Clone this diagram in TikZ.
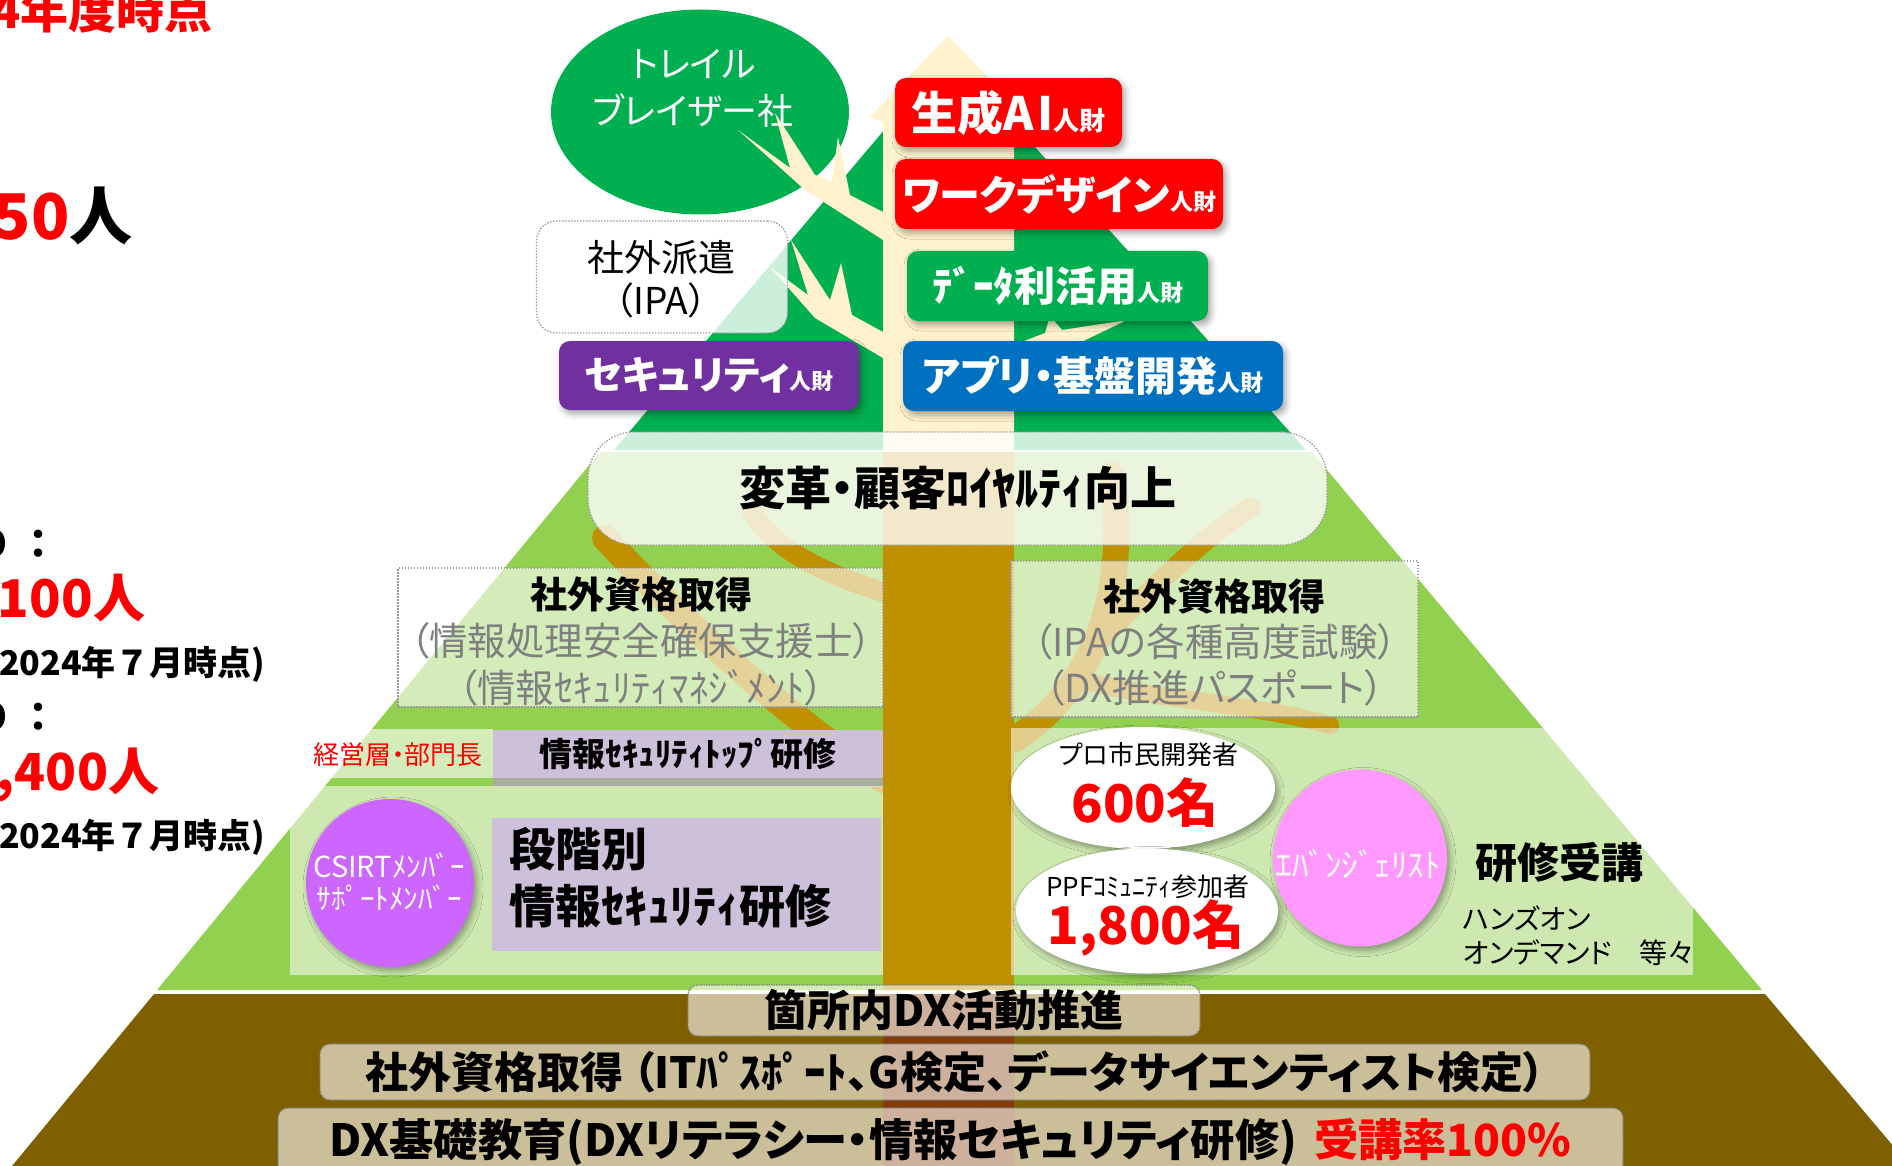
\documentclass[tikz,border=0pt]{standalone}
\usepackage{fontspec}
\setmainfont{Noto Sans CJK JP}[RawFeature=+palt]
\newfontfamily\jpfix{Noto Sans CJK JP}
\usetikzlibrary{shapes.geometric,shadows.blur}

\definecolor{dgreen}{HTML}{00B050}
\definecolor{lgreen}{HTML}{92D050}
\definecolor{soil}{HTML}{7F6000}
\definecolor{cream}{HTML}{FFF2CC}
\definecolor{gold}{HTML}{BF9000}
\definecolor{rootc}{HTML}{843C0C}
\definecolor{tblue}{HTML}{0070C0}
\definecolor{tpurple}{HTML}{7030A0}
\definecolor{lav}{HTML}{CCC0DA}
\definecolor{csirtc}{HTML}{CC66FF}
\definecolor{pinkc}{HTML}{FF99FF}
\definecolor{txtgray}{HTML}{7F7F7F}
\definecolor{shadegray}{HTML}{A9ADA0}

\newcommand\fsz[1]{\fontsize{#1}{#1}\selectfont}

\begin{document}
\begin{tikzpicture}[x=1pt,y=-1pt,
  every node/.style={inner sep=0pt, outer sep=0pt},
  shad/.style={blur shadow={shadow xshift=3pt, shadow yshift=-4pt, shadow blur radius=6pt, shadow opacity=35}},
  tagbox/.style={rounded corners=11pt, text=white, font=\bfseries, shad},
  glass/.style={fill=white, fill opacity=0.8, text opacity=1, draw=gray!80, line width=1.2pt, dash pattern=on 1.5pt off 1.5pt},
  haze/.style={fill=white, fill opacity=0.6, text opacity=1, draw=gray!80, line width=1.2pt, dash pattern=on 1.5pt off 1.5pt},
  soilbox/.style={fill=white, fill opacity=0.6, text opacity=1, draw=gray, line width=1.2pt, dash pattern=on 1.5pt off 1pt, rounded corners=10pt},
  bubble/.style={ellipse, fill=white, shad},
  limb/.style={draw=gold, line width=#1, line cap=round},
]
\useasboundingbox (0,0) rectangle (1892,1166);
\clip (0,0) rectangle (1892,1166);

% ---------- figures on the left ----------
\node[anchor=base west, text=red, font=\jpfix\bfseries\fsz{48}] (year) at (-9,29) {4年度時点};
\node[anchor=base west, font=\jpfix\bfseries\fsz{63}] (total) at (-7,240) {\textcolor{red}{50}人};
\node[anchor=base east, font=\jpfix\bfseries\fsz{40}] (labA) at (8,558) {D};
\node[anchor=base, font=\jpfix\bfseries\fsz{40}] (colA) at (39,558) {：};
\node[anchor=base west, text=red, font=\jpfix\bfseries\fsz{52}] (numA) at (-2,617) {100人};
\node[anchor=base west, font=\jpfix\bfseries\fsz{34}] (dateA) at (-1,675) {2024年７月時点)};
\node[anchor=base east, font=\jpfix\bfseries\fsz{40}] (labB) at (8,731) {D};
\node[anchor=base, font=\jpfix\bfseries\fsz{40}] (colB) at (39,731) {：};
\node[anchor=base west, text=red, font=\jpfix\bfseries\fsz{51}] (numB) at (-3,790) {,400人};
\node[anchor=base west, font=\jpfix\bfseries\fsz{34}] (dateB) at (-1,848) {2024年７月時点)};

% ---------- ground layers ----------
\fill[lgreen] (600,452) -- (1312,452) -- (1762,990) -- (157,990) -- cycle;
\fill[dgreen] (950,52) -- (1306,450) -- (614,450) -- cycle;
\fill[soil] (154,994) -- (1765,994) -- (1910,1166) -- (12,1166) -- cycle;

% roots in the soil, golden trunk and limbs
\fill[rootc] (883,994) rectangle (1014,1166);
\fill[gold] (883,452) rectangle (1014,990);
\draw[limb=26pt] (883,780) .. controls (800,725) and (700,640) .. (605,538);
\draw[limb=20pt] (883,592) .. controls (830,575) and (780,555) .. (752,512);
\draw[limb=26pt] (1014,740) .. controls (1090,690) and (1130,600) .. (1112,475);
\draw[limb=20pt] (1090,650) .. controls (1150,590) and (1200,540) .. (1250,508);
\draw[limb=18pt] (1080,680) .. controls (1160,700) and (1260,705) .. (1330,725);

% ---------- crown ----------
\node[ellipse, fill=dgreen, minimum width=298pt, minimum height=205pt] (trail) at (700,112) {};
\node[text=white, align=center, font=\fontsize{36}{47}\selectfont] (trailtxt) at (693,88) {トレイル\\ブレイザー社};

% cream arrow with twigs
\fill[cream] (948,36) -- (1026,117) -- (1014,122) -- (1014,452) -- (883,452) -- (883,122) -- (870,117) -- cycle;
\fill[cream] (883,240) -- (805,190) -- (738,130) -- (790,168) -- (775,113) -- (815,175) -- (832,182) -- (838,137) -- (850,195) -- (883,212) -- cycle;
\fill[cream] (883,358) -- (815,318) -- (770,267) -- (808,295) -- (791,240) -- (830,300) -- (841,263) -- (852,315) -- (883,332) -- cycle;
\fill[cream] (1014,345) -- (1045,333) -- (1050,316) -- (1062,330) -- (1127,320) -- (1075,345) -- (1014,365) -- cycle;

\node[glass, rounded corners=20pt, minimum width=251pt, minimum height=112pt] (haken) at (662,277) {};
\node[align=center, font=\fontsize{37}{43}\selectfont] (hakentxt) at (661,279) {社外派遣\\（IPA）};

% talent tags
\node[tagbox, fill=red, minimum width=227pt, minimum height=69pt] (genai) at (1008.5,112.5) {\fsz{46}生成A\kern4pt I\fsz{26}人財};
\node[tagbox, fill=red, minimum width=328pt, minimum height=70pt] (workd) at (1059,194) {\fsz{41}ワークデザイン\fsz{23}人財};
\node[tagbox, fill=dgreen, minimum width=301pt, minimum height=70pt] (datau) at (1057.5,286) {\fsz{41}ﾃﾞｰﾀ利活用\fsz{23}人財};
\node[tagbox, fill=tblue, minimum width=380pt, minimum height=70pt] (appdev) at (1093,376) {\fsz{41}アプリ・基盤開発\fsz{23}人財};
\node[tagbox, fill=tpurple, minimum width=300pt, minimum height=69pt] (secu) at (709,375.5) {\fsz{39}セキュリティ\fsz{22}人財};

\node[glass, rounded corners=46pt, minimum width=739pt, minimum height=113pt, font=\bfseries\fsz{46}] (kaikaku) at (957.5,488.5) {変革・顧客ﾛｲﾔﾙﾃｨ向上};

% ---------- middle band ----------
\node[haze, minimum width=485pt, minimum height=139pt] (qualL) at (640.5,637.5) {};
\node[font=\bfseries\fsz{37}] (qualLh) at (641,594) {社外資格取得};
\node[text=txtgray, font=\fsz{38.5}] (qualL1) at (641,641) {（情報処理安全確保支援士）};
\node[text=txtgray, font=\fsz{38.5}] (qualL2) at (641,688) {（情報ｾｷｭﾘﾃｨﾏﾈｼﾞﾒﾝﾄ）};

\node[haze, minimum width=407pt, minimum height=156pt] (qualR) at (1214.5,639) {};
\node[font=\bfseries\fsz{37}] (qualRh) at (1214,596) {社外資格取得};
\node[text=txtgray, font=\fsz{38.5}] (qualR1) at (1215,642) {（IPAの各種高度試験）};
\node[text=txtgray, font=\fsz{38.5}] (qualR2) at (1215,688) {（DX推進パスポート）};

% ---------- lower left: security training ----------
\fill[white, fill opacity=0.6] (290,729) rectangle (493,778);
\node[text=red, font=\fsz{26}] (mgmt) at (398,755) {経営層・部門長};
\fill[shadegray] (493,778) rectangle (883,787);
\node[fill=lav, minimum width=390pt, minimum height=48pt, font=\bfseries\fsz{33}] (topsec) at (688,754) {情報ｾｷｭﾘﾃｨﾄｯﾌﾟ研修};
\fill[white, fill opacity=0.55] (290,786) rectangle (883,975);
\node[circle, fill=csirtc, minimum size=168pt, shad] (csirt) at (390,883) {};
\node[text=white, align=center, font=\fontsize{29}{32}\selectfont] (csirttxt) at (389,882) {CSIRTﾒﾝﾊﾞｰ\\ｻﾎﾟｰﾄﾒﾝﾊﾞｰ};
\node[fill=lav, minimum width=389pt, minimum height=133pt] (stage) at (686.5,884.5) {};
\node[anchor=west, font=\bfseries\fsz{46}] (stage1) at (509,849) {段階別};
\node[anchor=west, font=\bfseries\fsz{46}] (stage2) at (509,906) {情報ｾｷｭﾘﾃｨ研修};

% ---------- lower right: citizen developers ----------
\fill[white, fill opacity=0.55] (1011,728) rectangle (1693,975);
\node[bubble, minimum width=264pt, minimum height=122pt] (pro) at (1143,788) {};
\node[font=\fsz{26}] (protxt) at (1149,755) {プロ市民開発者};
\node[text=red, font=\bfseries\fsz{52}] (pronum) at (1145,803) {600名};
\node[bubble, minimum width=262pt, minimum height=125pt] (ppf) at (1147,911) {};
\node[font=\fsz{26}] (ppftxt) at (1148,887) {PPFｺﾐｭﾆﾃｨ参加者};
\node[text=red, font=\bfseries\fsz{52}] (ppfnum) at (1146,928) {1,800名};
\node[ellipse, fill=pinkc, minimum width=174pt, minimum height=177pt, shad] (evan) at (1360,858) {};
\node[text=white, font=\fsz{33}] (evantxt) at (1358,864) {ｴﾊﾞﾝｼﾞｪﾘｽﾄ};
\node[anchor=west, font=\bfseries\fsz{42}] (course) at (1475,863) {研修受講};
\node[anchor=west, font=\fsz{28}] (hands) at (1463,918) {ハンズオン};
\node[anchor=west, font=\fsz{28}] (ondem) at (1463,953) {オンデマンド　等々};

% ---------- soil: foundation ----------
\node[soilbox, minimum width=512pt, minimum height=51pt, font=\bfseries\fsz{43}] (kasho) at (944,1010.5) {箇所内DX活動推進};
\node[soilbox, minimum width=1270pt, minimum height=56pt, font=\bfseries\fsz{43}] (qualB) at (955,1072) {社外資格取得 （ITﾊﾟｽﾎﾟｰﾄ、G検定、データサイエンティスト検定）};
\node[soilbox, minimum width=1345pt, minimum height=68pt, font=\bfseries\fsz{44.3}] (basic) at (950.5,1142) {DX基礎教育(DXリテラシー・情報セキュリティ研修)\hspace{17pt}\textcolor{red}{受講率100\%}};
\end{tikzpicture}
\end{document}
